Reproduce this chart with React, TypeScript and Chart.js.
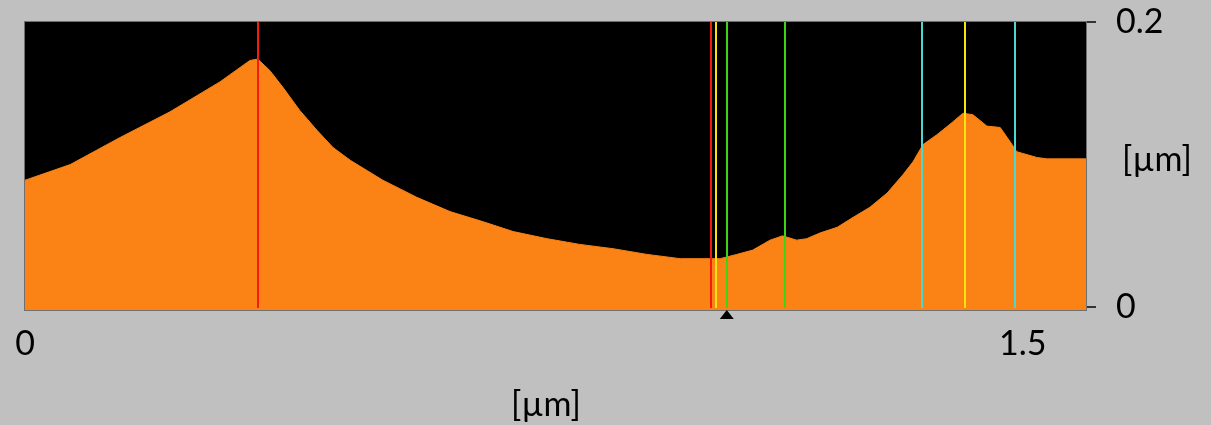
import React, { useEffect, useRef } from 'react';
import { Chart, registerables } from 'chart.js';

Chart.register(...registerables);

// Height profile (µm) along the scan line (µm)
const profileX = [0, 0.068, 0.143, 0.218, 0.293, 0.338, 0.35, 0.368, 0.388, 0.413, 0.439, 0.463, 0.489, 0.538, 0.589, 0.639, 0.688, 0.734, 0.785, 0.834, 0.884, 0.935, 0.985, 1.045, 1.07, 1.094, 1.12, 1.139, 1.16, 1.175, 1.195, 1.221, 1.245, 1.27, 1.296, 1.32, 1.335, 1.35, 1.371, 1.395, 1.41, 1.425, 1.446, 1.466, 1.481, 1.491, 1.521, 1.536, 1.595];
const profileY = [0.089, 0.1, 0.119, 0.137, 0.158, 0.173, 0.174, 0.166, 0.154, 0.138, 0.124, 0.112, 0.103, 0.089, 0.077, 0.067, 0.06, 0.053, 0.048, 0.044, 0.041, 0.037, 0.034, 0.034, 0.037, 0.04, 0.047, 0.05, 0.047, 0.048, 0.052, 0.056, 0.063, 0.07, 0.08, 0.093, 0.102, 0.114, 0.121, 0.13, 0.136, 0.135, 0.127, 0.126, 0.116, 0.109, 0.105, 0.104, 0.104];

const xTickValues = [0, 1.5];
const yTickValues = [0, 0.2];
const xRange = [0, 1.595];
const yRange = [-0.002, 0.2];

const markerPositions = [0.3505, 1.0307, 1.0386, 1.0547, 1.1423, 1.3478, 1.4133, 1.488];
const markerColors = ['#f21d0c', '#f21d0c', '#f2e40c', '#3fd316', '#3fd316', '#4dd8cf', '#f2e40c', '#4dd8cf'];
const cursorPosition = 1.055;
const unitLabel = '[µm]';

const FONT = '34px Lato, "Open Sans", sans-serif';

const overlayPlugin = {
  id: 'overlay',
  beforeDatasetsDraw(chart: any) {
    const { ctx, chartArea: a } = chart;
    ctx.save();
    ctx.fillStyle = '#000000';
    ctx.fillRect(a.left, a.top, a.right - a.left, a.bottom - a.top);
    ctx.strokeStyle = '#707070';
    ctx.lineWidth = 1;
    ctx.strokeRect(a.left - 0.5, a.top - 0.5, a.right - a.left + 1, a.bottom - a.top + 1);
    ctx.restore();
  },
  afterDatasetsDraw(chart: any) {
    const { ctx, chartArea: a, scales } = chart;
    const xs = scales.x;
    ctx.save();
    ctx.lineWidth = 2;
    markerPositions.forEach((v, i) => {
      const px = Math.round(xs.getPixelForValue(v));
      ctx.strokeStyle = markerColors[i];
      ctx.beginPath();
      ctx.moveTo(px, a.top);
      ctx.lineTo(px, a.bottom - 2);
      ctx.stroke();
    });
    // cursor triangle
    const cx = xs.getPixelForValue(cursorPosition);
    ctx.fillStyle = '#000000';
    ctx.beginPath();
    ctx.moveTo(cx, a.bottom);
    ctx.lineTo(cx - 7, a.bottom + 9);
    ctx.lineTo(cx + 7, a.bottom + 9);
    ctx.closePath();
    ctx.fill();
    ctx.restore();
  },
  afterDraw(chart: any) {
    const { ctx } = chart;
    ctx.save();
    ctx.font = FONT;
    ctx.fillStyle = '#000000';
    ctx.textAlign = 'center';
    ctx.textBaseline = 'middle';
    ctx.fillText(unitLabel, 1157, 160);
    ctx.fillText(unitLabel, 546, 405);
    ctx.restore();
  },
};

export default function App() {
  const canvasRef = useRef<HTMLCanvasElement | null>(null);

  useEffect(() => {
    document.body.style.margin = '0';
    document.body.style.background = '#c0c0c0';
    const canvas = canvasRef.current;
    if (!canvas) return;
    const data = profileX.map((x, i) => ({ x, y: profileY[i] }));
    const chart = new Chart(canvas, {
      type: 'line',
      data: {
        datasets: [
          {
            data,
            borderColor: '#fb8214',
            backgroundColor: '#fb8214',
            borderWidth: 1,
            pointRadius: 0,
            fill: 'start',
            tension: 0,
          },
        ],
      },
      options: {
        animation: false,
        responsive: true,
        maintainAspectRatio: false,
        layout: { padding: { left: 25, top: 22, right: 0, bottom: 0 } },
        plugins: { legend: { display: false }, tooltip: { enabled: false } },
        scales: {
          x: {
            type: 'linear',
            position: 'bottom',
            min: xRange[0],
            max: xRange[1],
            grid: { display: false, drawTicks: false },
            border: { display: false },
            ticks: {
              font: { family: 'Lato, "Open Sans", sans-serif', size: 34 },
              color: '#000000',
              padding: 14,
              maxRotation: 0,
              autoSkip: false,
              callback: (v: any) => String(v),
            },
            afterBuildTicks: (s: any) => {
              s.ticks = xTickValues.map((value) => ({ value }));
            },
            afterFit: (s: any) => {
              s.height = 115;
              s.paddingLeft = 0;
              s.paddingRight = 0;
            },
          },
          y: {
            type: 'linear',
            position: 'right',
            min: yRange[0],
            max: yRange[1],
            grid: { drawOnChartArea: false, drawTicks: true, tickLength: 10, color: '#333333', lineWidth: 2 },
            border: { display: false },
            ticks: {
              font: { family: 'Lato, "Open Sans", sans-serif', size: 34 },
              color: '#000000',
              padding: 20,
              autoSkip: false,
              callback: (v: any) => String(v),
            },
            afterBuildTicks: (s: any) => {
              s.ticks = yTickValues.map((value) => ({ value }));
            },
            afterFit: (s: any) => {
              s.width = 125;
              s.paddingTop = 0;
              s.paddingBottom = 0;
            },
          },
        },
      },
      plugins: [overlayPlugin],
    });
    return () => chart.destroy();
  }, []);

  return (
    <div style={{ position: 'relative', width: 1211, height: 425, background: '#c0c0c0' }}>
      <canvas ref={canvasRef} />
    </div>
  );
}
